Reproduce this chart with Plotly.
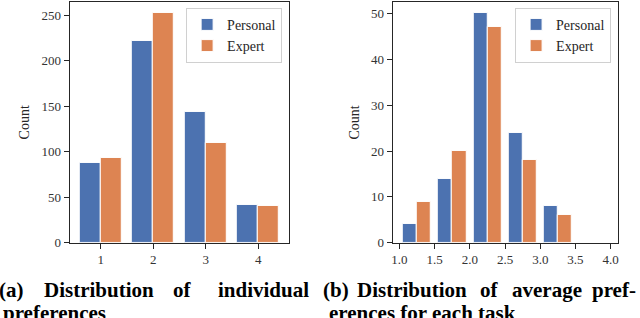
import plotly.graph_objects as go

# ---------------- data ----------------
choices = [1, 2, 3, 4]
personal_counts = [88, 222, 144, 41]
expert_counts = [93, 252, 110, 40]

bin_centers = [1.25, 1.75, 2.25, 2.75, 3.25, 3.75]
personal_avg_counts = [4, 14, 50, 24, 8, 0]
expert_avg_counts = [9, 20, 47, 18, 6, 0]

left_yticks = [0, 50, 100, 150, 200, 250]
right_yticks = [0, 10, 20, 30, 40, 50]
right_xticks = [1.0, 1.5, 2.0, 2.5, 3.0, 3.5, 4.0]
right_xticklabels = ["1.0", "1.5", "2.0", "2.5", "3.0", "3.5", "4.0"]

series_names = ["Personal", "Expert"]
caption_a_line1 = ["(a)", "Distribution", "of", "individual"]
caption_a_line2 = "preferences"
caption_b_line1 = ["(b)", "Distribution", "of", "average", "pref-"]
caption_b_line2 = "erences for each task"

# ---------------- style ----------------
W, H = 640, 318
BLUE = "#4C72B0"
ORANGE = "#DD8452"
SPINE = "#262626"
SERIF = "Liberation Serif, Times New Roman, serif"


def px(x):
    return x / W


def py(y):
    return 1 - y / H


fig = go.Figure()

# left histogram (discrete, dodged)
fig.add_trace(go.Bar(x=choices, y=personal_counts, name=series_names[0], width=0.4, offset=-0.4,
                     marker=dict(color=BLUE, line=dict(color="white", width=1)),
                     xaxis="x", yaxis="y", legend="legend"))
fig.add_trace(go.Bar(x=choices, y=expert_counts, name=series_names[1], width=0.4, offset=0.0,
                     marker=dict(color=ORANGE, line=dict(color="white", width=1)),
                     xaxis="x", yaxis="y", legend="legend"))

# right histogram (bins of 0.5, dodged)
fig.add_trace(go.Bar(x=bin_centers, y=personal_avg_counts, name=series_names[0], width=0.2, offset=-0.2,
                     marker=dict(color=BLUE, line=dict(color="white", width=1)),
                     xaxis="x2", yaxis="y2", legend="legend2"))
fig.add_trace(go.Bar(x=bin_centers, y=expert_avg_counts, name=series_names[1], width=0.2, offset=0.0,
                     marker=dict(color=ORANGE, line=dict(color="white", width=1)),
                     xaxis="x2", yaxis="y2", legend="legend2"))

axis_common = dict(showline=True, mirror=True, linecolor=SPINE, linewidth=1.3,
                   ticks="outside", ticklen=5, tickwidth=1.3, tickcolor=SPINE,
                   showgrid=False, zeroline=False,
                   tickfont=dict(family=SERIF, size=13, color="#333333"))

ytop = 2
ybot = 249
fig.update_layout(
    width=W, height=H,
    margin=dict(l=0, r=0, t=0, b=0),
    paper_bgcolor="white", plot_bgcolor="white",
    barmode="overlay",
    font=dict(family=SERIF, color="#262626"),
    xaxis=dict(domain=[px(69), px(289)], range=[0.41, 4.59], tickvals=choices, anchor="y", **axis_common),
    yaxis=dict(domain=[py(ybot), py(ytop)], range=[0, 264.6], tickvals=left_yticks, anchor="x",
               title=dict(text="Count", font=dict(family=SERIF, size=14, color="#262626"), standoff=8),
               **axis_common),
    xaxis2=dict(domain=[px(393), px(619)], range=[0.905, 4.105], tickvals=right_xticks,
                ticktext=right_xticklabels, anchor="y2", **axis_common),
    yaxis2=dict(domain=[py(ybot), py(ytop)], range=[0, 52.5], tickvals=right_yticks, anchor="x2",
                title=dict(text="Count", font=dict(family=SERIF, size=14, color="#262626"), standoff=8),
                **axis_common),
    legend=dict(x=px(282), y=py(8), xanchor="right", yanchor="top",
                bgcolor="white", bordercolor="#d0d0d0", borderwidth=1,
                font=dict(family=SERIF, size=14, color="#262626"),
                itemwidth=30, tracegroupgap=0),
    legend2=dict(x=px(612), y=py(8), xanchor="right", yanchor="top",
                 bgcolor="white", bordercolor="#d0d0d0", borderwidth=1,
                 font=dict(family=SERIF, size=14, color="#262626"),
                 itemwidth=30, tracegroupgap=0),
    bargap=0,
)

# captions (bold, justified words)
cap_font = dict(family=SERIF, size=21, color="black")
line1_y = 297.5
line2_y = line1_y + 24
a_centers = [10.5, 98.3, 182.2, 263.3]
for word, cx in zip(caption_a_line1, a_centers):
    fig.add_annotation(text="<b>%s</b>" % word, x=px(cx), y=py(line1_y), xref="paper", yref="paper",
                       xanchor="center", yanchor="middle", showarrow=False, font=cap_font)
b_centers = [336, 412.5, 490, 547.3, 614.5]
for word, cx in zip(caption_b_line1, b_centers):
    fig.add_annotation(text="<b>%s</b>" % word, x=px(cx), y=py(line1_y), xref="paper", yref="paper",
                       xanchor="center", yanchor="middle", showarrow=False, font=cap_font)
fig.add_annotation(text="<b>%s</b>" % caption_a_line2, x=px(0), y=py(line2_y), xref="paper", yref="paper",
                   xanchor="left", yanchor="middle", showarrow=False, font=cap_font)
fig.add_annotation(text="<b>%s</b>" % caption_b_line2, x=px(327), y=py(line2_y), xref="paper", yref="paper",
                   xanchor="left", yanchor="middle", showarrow=False, font=cap_font)

fig.write_html("out.html", config={"displayModeBar": False},
               post_script="document.body.style.margin='0';document.body.style.overflow='hidden';")
